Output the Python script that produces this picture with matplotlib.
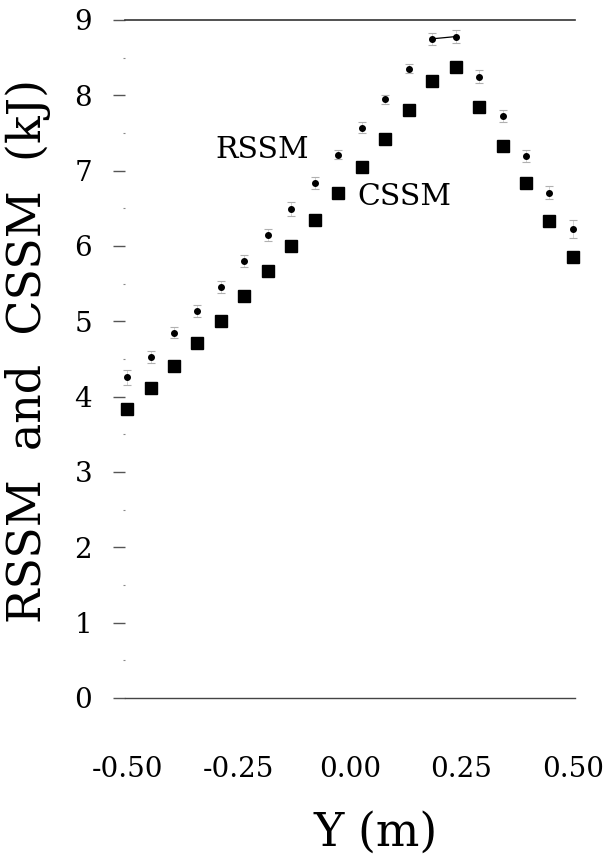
import matplotlib
matplotlib.use("Agg")
import matplotlib.pyplot as plt
from matplotlib.ticker import MultipleLocator

# ---- data ----
y_pos = [-0.500, -0.447, -0.395, -0.342, -0.289, -0.237, -0.184, -0.132, -0.079, -0.026,
         0.026, 0.079, 0.132, 0.184, 0.237, 0.289, 0.342, 0.395, 0.447, 0.500]
cssm = [3.84, 4.12, 4.41, 4.71, 5.01, 5.34, 5.67, 6.00, 6.35, 6.71,
        7.05, 7.42, 7.81, 8.19, 8.37, 7.85, 7.33, 6.84, 6.33, 5.86]
rssm = [4.26, 4.53, 4.85, 5.14, 5.46, 5.80, 6.14, 6.49, 6.84, 7.21,
        7.57, 7.95, 8.35, 8.75, 8.78, 8.25, 7.72, 7.20, 6.71, 6.22]
rssm_err = [0.10, 0.08, 0.07, 0.08, 0.08, 0.08, 0.08, 0.09, 0.08, 0.06,
            0.07, 0.06, 0.06, 0.08, 0.09, 0.08, 0.08, 0.08, 0.08, 0.12]
x_ticks = [-0.50, -0.25, 0.00, 0.25, 0.50]
x_ticklabels = ["-0.50", "-0.25", "0.00", "0.25", "0.50"]
y_ticks = [0, 1, 2, 3, 4, 5, 6, 7, 8, 9]

serif = ["DejaVu Serif"]
plt.rcParams["font.family"] = serif

fig = plt.figure(figsize=(6.05, 8.57), dpi=100)
ax = fig.add_axes([125 / 605, 1 - 698 / 857, 450 / 605, 678 / 857])

# RSSM: small dots with error bars
ax.errorbar(y_pos, rssm, yerr=rssm_err, fmt="o", color="black", ms=4.0,
            ecolor="#b0b0b0", elinewidth=0.4, capsize=3.0, capthick=0.8,
            clip_on=False, zorder=3)
# short connecting segment between the two top RSSM points
ax.plot(y_pos[13:15], rssm[13:15], color="black", lw=0.9, zorder=2)
# CSSM: filled squares
ax.plot(y_pos, cssm, "s", color="black", ms=8.6, clip_on=False, zorder=4)

ax.text(-0.197, 7.28, "RSSM", fontsize=21.5, ha="center", va="center")
ax.text(0.123, 6.65, "CSSM", fontsize=21.5, ha="center", va="center")

ax.set_xlim(-0.5045, 0.5045)
ax.set_ylim(0, 9)

ax.set_xticks(x_ticks)
ax.set_xticklabels(x_ticklabels)
ax.set_yticks(y_ticks)
ax.set_yticklabels([str(v) for v in y_ticks])
ax.yaxis.set_minor_locator(MultipleLocator(0.5))

ax.tick_params(axis="x", length=0, pad=42, labelsize=20)
ax.tick_params(axis="y", which="major", length=8.6, width=1.0, color="#555555",
               pad=15, labelsize=20)
ax.tick_params(axis="y", which="minor", length=1.5, width=0.8, color="#888888")

for s in ["left", "right"]:
    ax.spines[s].set_visible(False)
ax.spines["top"].set_color("#333333")
ax.spines["top"].set_linewidth(1.2)
ax.spines["bottom"].set_color("#444444")
ax.spines["bottom"].set_linewidth(1.0)

ax.set_xlabel("Y (m)", fontsize=33)
ax.xaxis.set_label_coords(0.556, -0.166)
ax.set_ylabel("RSSM  and  CSSM  (kJ)", fontsize=33)
ax.yaxis.set_label_coords(-0.165, 0.512)

fig.savefig("out.png", dpi=100, facecolor="white")
